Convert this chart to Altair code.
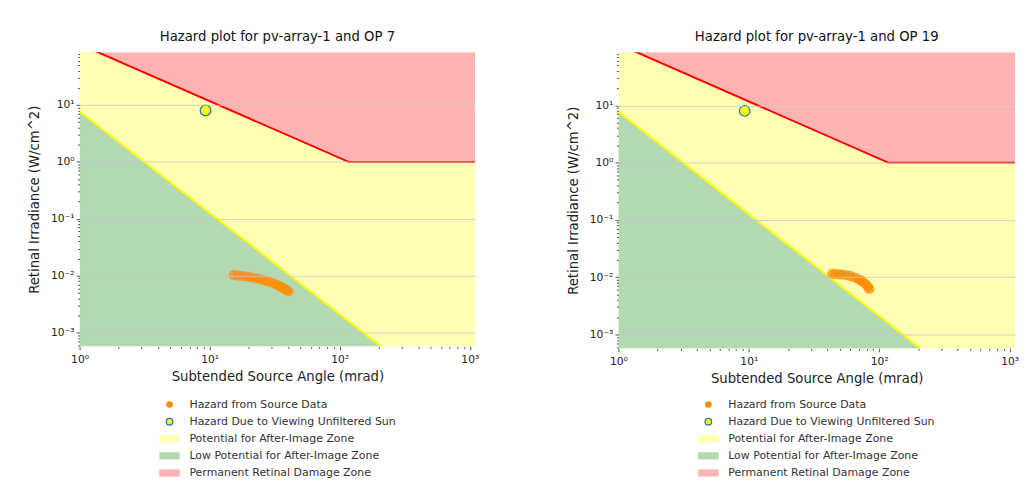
import altair as alt
import pandas as pd

# ---------------- data ----------------
LABELS = [
    "Hazard from Source Data",
    "Hazard Due to Viewing Unfiltered Sun",
    "Potential for After-Image Zone",
    "Low Potential for After-Image Zone",
    "Permanent Retinal Damage Zone",
]
FILLS = ["#ff8c00", "#ffff00", "#ffffb3", "#b3d9b3", "#ffb3b3"]
STROKES = ["transparent", "#1f77b4", "transparent", "transparent", "transparent"]
RECT = "M-3.1,-1.1H3.1V1.1H-3.1Z"
SHAPES = ["circle", "circle", RECT, RECT, RECT]

X_DOMAIN = [1, 1100]
Y_DOMAIN = [5.7e-4, 85]

# boundary of the permanent retinal damage zone
red_x = [1, 117, 1100]
red_y = [117, 1, 1]
# boundary of the low-potential zone
yel_x = [1, 10, 100, 207]
yel_y = [7.7, 0.126, 0.0021, 5.7e-4]

# unfiltered sun
sun_x = [9.3]
sun_y = [8.0]

# hazard from source data
op7_x = [15.3, 16.5, 17.8, 19.4, 20.8, 22.5, 24.5, 26.5, 28.5, 31.0, 33.0, 35.0, 36.9, 38.5, 40.3]
op7_y = [0.0102, 0.0100, 0.0098, 0.0096, 0.0093, 0.0090, 0.0086, 0.0082, 0.0078, 0.0073,
         0.0068, 0.0064, 0.0060, 0.0056, 0.0053]
op19_x = [43.6, 46, 49, 52, 56, 60.3, 65, 69.7, 72, 75, 79.2, 82, 84]
op19_y = [0.0114, 0.0113, 0.0112, 0.0111, 0.0108, 0.0104, 0.0098, 0.0091, 0.0088, 0.0083,
          0.0075, 0.0068, 0.0062]

TITLES = ["Hazard plot for pv-array-1 and OP 7", "Hazard plot for pv-array-1 and OP 19"]

X_TICKS = [m * 10 ** e for e in range(0, 3) for m in range(1, 10)] + [1000]
Y_TICKS = [m * 10.0 ** e for e in range(-4, 2) for m in range(1, 10)
           if Y_DOMAIN[0] <= m * 10.0 ** e <= Y_DOMAIN[1]]

MAJOR = "abs(log(datum.value)/LN10 - round(log(datum.value)/LN10)) < 0.000001"
SUP = "['10\u207b\u2074','10\u207b\u00b3','10\u207b\u00b2','10\u207b\u00b9','10\u2070','10\u00b9','10\u00b2','10\u00b3']"
LABEL_EXPR = f"{MAJOR} ? {SUP}[round(log(datum.value)/LN10)+4] : ''"

FONT = "DejaVu Sans"


def panel(title, px, py, width, height):
    xs = alt.Scale(type="log", domain=X_DOMAIN, nice=False)
    ys = alt.Scale(type="log", domain=Y_DOMAIN, nice=False)
    fill_scale = alt.Scale(domain=LABELS, range=FILLS)
    legend = alt.Legend(
        title=None, orient="none", legendX=85, legendY=349, direction="vertical",
        labelFont=FONT, labelFontSize=11, labelColor="#333333", symbolSize=44,
        symbolOpacity=1, symbolStrokeWidth=1.2, labelOffset=14.5, rowPadding=4.2,
        padding=0, labelLimit=400,
    )
    x_axis = alt.Axis(
        values=X_TICKS, labelExpr=LABEL_EXPR, title="Subtended Source Angle (mrad)",
        grid=False, domain=False, labelOverlap=False, labelFlush=False,
        tickSize={"condition": {"test": MAJOR, "value": 3.5}, "value": 2},
        tickColor="#555555", labelFont=FONT, labelFontSize=10.8, labelColor="#222222",
        labelPadding=4, titleFont=FONT, titleFontSize=13.3, titleFontWeight="normal",
        titleColor="#222222", titlePadding=5, zindex=1,
    )
    y_axis = alt.Axis(
        values=Y_TICKS, labelExpr=LABEL_EXPR, title="Retinal Irradiance (W/cm^2)",
        grid=True, gridColor="#c8c8c8", gridWidth=0.8,
        gridOpacity={"condition": {"test": MAJOR, "value": 1}, "value": 0},
        domain=False, labelOverlap=False, labelFlush=False,
        tickSize={"condition": {"test": MAJOR, "value": 3.5}, "value": 2},
        tickColor="#555555", labelFont=FONT, labelFontSize=10.8, labelColor="#222222",
        labelPadding=2, titleFont=FONT, titleFontSize=13.3, titleFontWeight="normal",
        titleColor="#222222", titlePadding=9, zindex=1,
    )

    bg = pd.DataFrame({"x": X_DOMAIN, "y": [Y_DOMAIN[1]] * 2, "y2": [Y_DOMAIN[0]] * 2,
                       "label": [LABELS[2]] * 2})
    green = pd.DataFrame({"x": yel_x, "y": yel_y, "y2": [Y_DOMAIN[0]] * len(yel_x),
                          "label": [LABELS[3]] * len(yel_x)})
    red = pd.DataFrame({"x": red_x, "y": red_y, "y2": [Y_DOMAIN[1]] * len(red_x),
                        "label": [LABELS[4]] * len(red_x)})
    src = pd.DataFrame({"x": px, "y": py, "label": [LABELS[0]] * len(px)})
    sun = pd.DataFrame({"x": sun_x, "y": sun_y, "label": [LABELS[1]]})

    def area(df):
        return alt.Chart(df).mark_area(clip=True, opacity=1).encode(
            x=alt.X("x:Q", scale=xs, axis=x_axis),
            y=alt.Y("y:Q", scale=ys, axis=y_axis),
            y2="y2:Q",
            fill=alt.Fill("label:N", scale=fill_scale, legend=legend),
        )

    layers = [area(bg), area(green), area(red)]
    layers.append(alt.Chart(green).mark_line(clip=True, color="#ffff00", strokeWidth=2).encode(
        x=alt.X("x:Q", scale=xs), y=alt.Y("y:Q", scale=ys)))
    layers.append(alt.Chart(red).mark_line(clip=True, color="#ff0000", strokeWidth=2).encode(
        x=alt.X("x:Q", scale=xs), y=alt.Y("y:Q", scale=ys)))

    def pts(df, size, opacity, sw):
        return alt.Chart(df).mark_point(filled=True, size=size, opacity=opacity,
                                        strokeWidth=sw, clip=True).encode(
            x=alt.X("x:Q", scale=xs),
            y=alt.Y("y:Q", scale=ys),
            fill=alt.Fill("label:N", scale=fill_scale, legend=legend),
            shape=alt.Shape("label:N", scale=alt.Scale(domain=LABELS, range=SHAPES), legend=legend),
            stroke=alt.Stroke("label:N", scale=alt.Scale(domain=LABELS, range=STROKES), legend=legend),
        )

    layers.append(pts(src, 105, 0.72, 0))
    layers.append(pts(sun, 115, 1, 1.2))

    return alt.layer(*layers).properties(
        width=width, height=height,
        title=alt.TitleParams(title, font=FONT, fontSize=13.3, fontWeight="normal",
                              color="#111111", offset=4),
    )


left = panel(TITLES[0], op7_x, op7_y, 398, 296)
right = panel(TITLES[1], op19_x, op19_y, 399, 298)

chart = alt.hconcat(left, right, spacing=87).resolve_scale(
    fill="independent", shape="independent", stroke="independent"
).resolve_legend(fill="independent", shape="independent", stroke="independent").properties(
    padding={"left": 19, "top": 21, "right": 0, "bottom": 0},
    background="white",
).configure_view(stroke=None)

chart.save("out.html", embed_options={"renderer": "svg", "actions": False})
